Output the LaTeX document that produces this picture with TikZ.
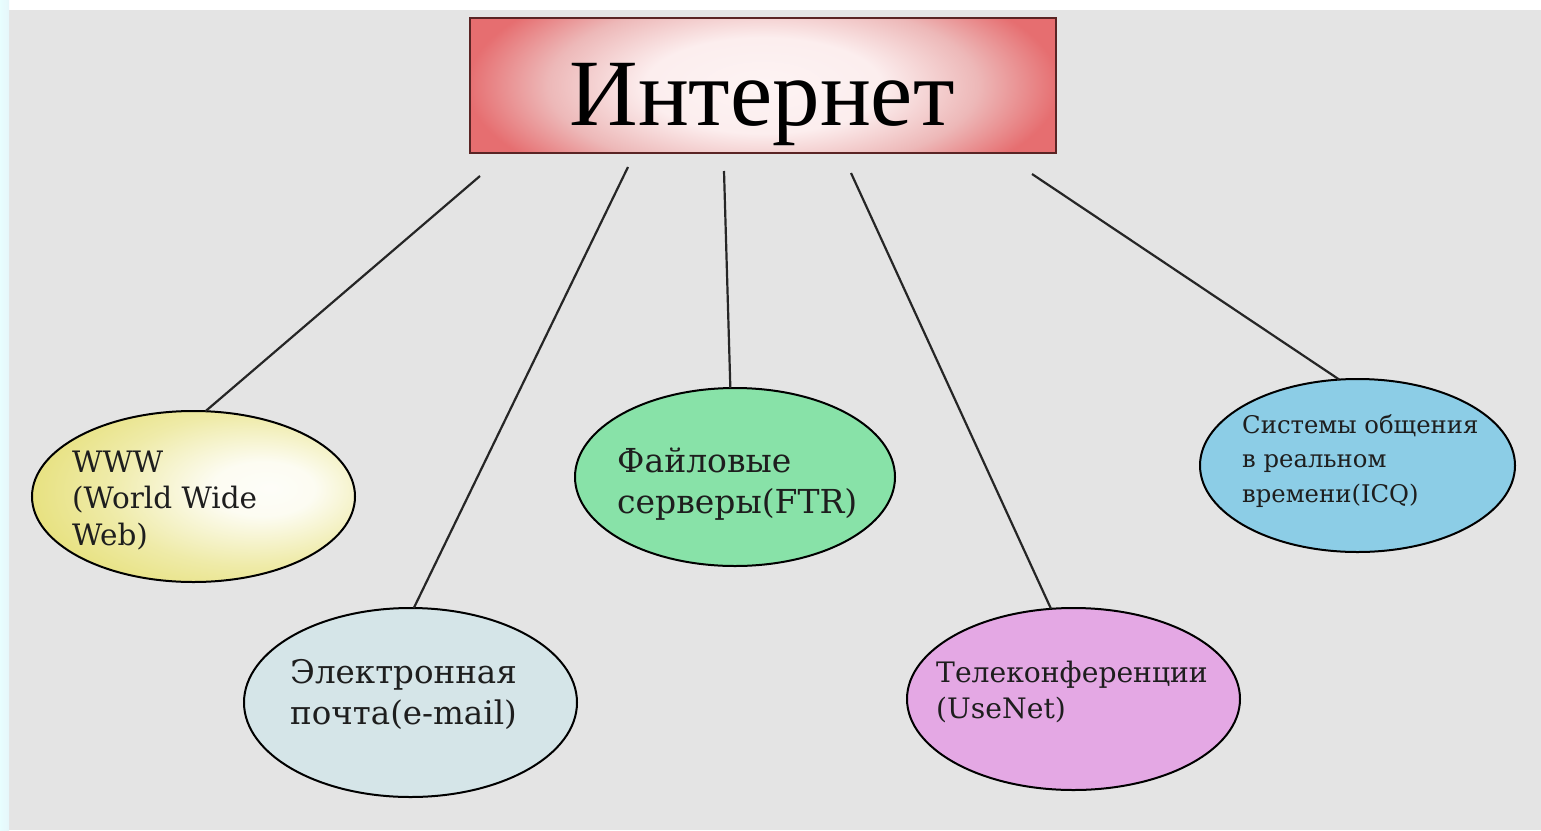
\documentclass[tikz,border=0pt]{standalone}
\usepackage{fontspec}
\setmainfont{Liberation Serif}
\newfontfamily\slab{DejaVu Serif}
\usetikzlibrary{shapes.geometric}
\definecolor{bggray}{HTML}{E4E4E4}
\definecolor{edgeblue}{HTML}{E6F6FA}
\definecolor{boxred}{HTML}{E66E70}
\definecolor{boxpink}{HTML}{EDB8B8}
\definecolor{boxborder}{HTML}{5A2424}
\definecolor{wwwyellow}{HTML}{E6E07A}
\definecolor{mailfill}{HTML}{D5E5E8}
\definecolor{filegreen}{HTML}{88E2A8}
\definecolor{telepink}{HTML}{E4A8E4}
\definecolor{icqblue}{HTML}{8CCDE6}
\definecolor{txt}{HTML}{1E1E1E}
\pgfdeclareradialshading{boxshade}{\pgfpoint{0bp}{0bp}}{%
  color(0bp)=(white!92!boxred);
  color(8bp)=(white!88!boxred);
  color(14.5bp)=(boxpink);
  color(20bp)=(boxred);
  color(50bp)=(boxred)}
\pgfdeclareradialshading{wwwshade}{\pgfpoint{12bp}{2.5bp}}{%
  color(0bp)=(white!95!wwwyellow);
  color(8bp)=(white!90!wwwyellow);
  color(22bp)=(wwwyellow!65!white);
  color(34bp)=(wwwyellow);
  color(80bp)=(wwwyellow)}
\tikzset{
  bubble/.style={ellipse, draw=black, line width=2pt, inner sep=0pt, outer sep=0pt},
  label/.style={anchor=base west, align=left, text=txt, inner sep=0pt, font=\slab},
  link/.style={draw=black!85, line width=2.2pt}
}
\begin{document}
\begin{tikzpicture}[x=1pt, y=-1pt]
\useasboundingbox (0,0) rectangle (1541,830);
% background
\fill[white] (0,0) rectangle (1541,830);
\fill[bggray] (9,10) rectangle (1541,830);
\shade[left color=edgeblue!60!cyan!20, right color=edgeblue] (0,0) rectangle (9,830);
% title box: shading clipped to the box, then the box outline
\begin{scope}
  \clip (470,18) rectangle (1056,153);
  \shade[shading=boxshade] (763,85.5) ellipse [x radius=370pt, y radius=150pt];
\end{scope}
\node[rectangle, draw=boxborder, line width=2.2pt,
      minimum width=586pt, minimum height=135pt, inner sep=0pt, outer sep=0pt]
      (inet) at (763,85.5) {};
\node[anchor=base, inner sep=0pt, font=\fontsize{95}{100}\selectfont] (inettxt) at (762,125) {Интернет};
% ellipses
\node[bubble, shading=wwwshade, minimum width=323pt, minimum height=171pt] (www) at (193.5,496.5) {};
\node[bubble, fill=mailfill, minimum width=333pt, minimum height=189pt] (mail) at (410.5,702.5) {};
\node[bubble, fill=filegreen, minimum width=320pt, minimum height=178pt] (ftp) at (735,477) {};
\node[bubble, fill=telepink, minimum width=333pt, minimum height=182pt] (tele) at (1073.5,699) {};
\node[bubble, fill=icqblue, minimum width=315pt, minimum height=173pt] (icq) at (1357.5,465.5) {};
% labels (anchored at the baseline of the last line)
\node[label, font=\slab\fontsize{29.5}{36.5}\selectfont] (wwwtxt) at (72,545) {WWW\\(World Wide\\Web)};
\node[label, font=\slab\fontsize{32.5}{41}\selectfont] (mailtxt) at (290,724) {Электронная\\почта(e-mail)};
\node[label, font=\slab\fontsize{33}{41}\selectfont] (ftptxt) at (617,513) {Файловые\\серверы(FTR)};
\node[label, font=\slab\fontsize{28.2}{36}\selectfont] (teletxt) at (936,718) {Телеконференции\\(UseNet)};
\node[label, font=\slab\fontsize{24.3}{34.5}\selectfont] (icqtxt) at (1242,502) {Системы общения\\в реальном\\времени(ICQ)};
% connector start points
\coordinate (s1) at (480,176);
\coordinate (s2) at (628,167);
\coordinate (s3) at (724,171);
\coordinate (s4) at (851,173);
\coordinate (s5) at (1032,174);
\draw[link] (s1) -- (www.82);
\draw[link] (s2) -- (mail.88.5);
\draw[link] (s3) -- (ftp.93);
\draw[link] (s4) -- (tele.104.5);
\draw[link] (s5) -- (icq.102.7);
\end{tikzpicture}
\end{document}
